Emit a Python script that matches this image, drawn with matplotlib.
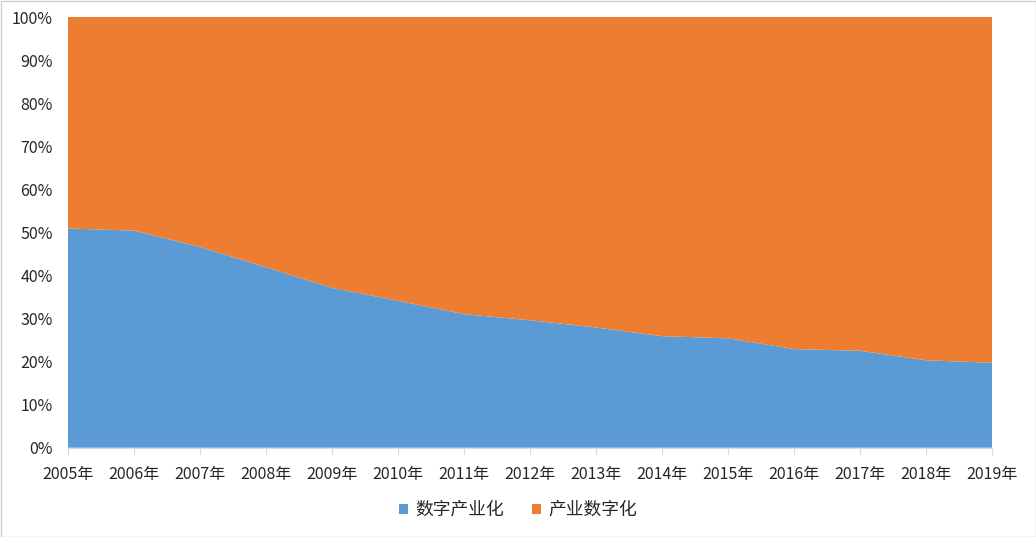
import matplotlib
matplotlib.use("Agg")
import matplotlib.pyplot as plt
from matplotlib.patches import Rectangle
from matplotlib.ticker import FuncFormatter

plt.rcParams['font.family'] = ['Noto Sans CJK SC', 'DejaVu Sans']

years = ["2005年", "2006年", "2007年", "2008年", "2009年", "2010年", "2011年", "2012年",
         "2013年", "2014年", "2015年", "2016年", "2017年", "2018年", "2019年"]
digital_industrialization = [50.9, 50.4, 46.6, 41.9, 37.1, 34.1, 31.0, 29.6,
                             27.9, 25.9, 25.4, 22.9, 22.5, 20.3, 19.7]
industrial_digitization = [100 - v for v in digital_industrialization]
series_names = ["数字产业化", "产业数字化"]
colors = ["#5B9BD5", "#ED7D31"]

fig = plt.figure(figsize=(10.36, 5.37), dpi=100)
ax = fig.add_axes([68 / 1036, 1 - 447.7 / 537, (992 - 68) / 1036, (447.7 - 17) / 537])

x = list(range(len(years)))
ax.stackplot(x, digital_industrialization, industrial_digitization,
             colors=colors, labels=series_names, linewidth=0)

ax.set_xlim(0, len(years) - 1)
ax.set_ylim(0, 100)
ax.set_yticks(range(0, 101, 10))
ax.yaxis.set_major_formatter(FuncFormatter(lambda v, p: f"{int(v)}%"))
ax.set_xticks(x)
ax.set_xticklabels(years)

for s in ["top", "right", "left"]:
    ax.spines[s].set_visible(False)
ax.spines["bottom"].set_color("#D9D9D9")
ax.tick_params(axis="y", length=0, pad=11, labelsize=11.5, colors="#262626")
ax.tick_params(axis="x", length=5, color="#D9D9D9", pad=8, labelsize=11.5, labelcolor="#262626")

leg = fig.legend(loc="center", bbox_to_anchor=(0.5, 1 - 510 / 537), ncol=2, frameon=False,
                 fontsize=12.8, handlelength=0.5, handleheight=0.5, handletextpad=0.4,
                 columnspacing=1.6)
for t in leg.get_texts():
    t.set_color("#262626")

fig.patches.append(Rectangle((0.5 / 1036, 0.5 / 537), 1 - 1 / 1036, 1 - 1 / 537,
                             transform=fig.transFigure, fill=False,
                             edgecolor="#D0D0D0", linewidth=1))

fig.savefig("out.png", dpi=100)
